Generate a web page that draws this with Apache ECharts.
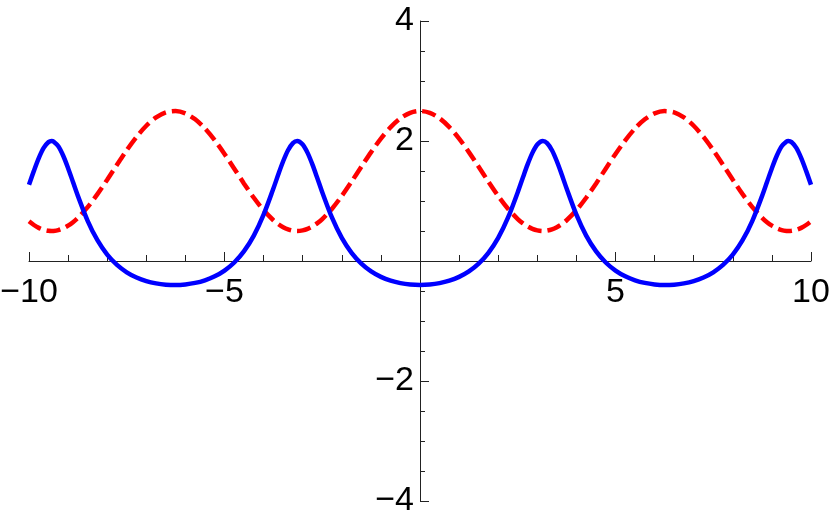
<!DOCTYPE html>
<html>
<head>
<meta charset="utf-8">
<script src="https://cdn.jsdelivr.net/npm/echarts@6/dist/echarts.min.js"></script>
<style>
  html, body { margin: 0; padding: 0; background: #fff; }
  #chart { width: 830px; height: 526px; }
</style>
</head>
<body>
<div id="chart"></div>
<script>
// sample positions along x
const xValues = [
  -10, -9.875, -9.75, -9.625, -9.5, -9.42, -9.375, -9.25, -9.125, -9, -8.875, -8.75, -8.5, -8.25, -8,
  -7.75, -7.5, -7.25, -7, -6.75, -6.5, -6.25, -6, -5.75, -5.5, -5.25, -5, -4.75, -4.5, -4.25, -4,
  -3.75, -3.625, -3.5, -3.375, -3.25, -3.14, -3, -2.875, -2.75, -2.625, -2.5, -2.25, -2, -1.75, -1.5,
  -1.25, -1, -0.75, -0.5, -0.25,
  0,
  0.25, 0.5, 0.75, 1, 1.25, 1.5, 1.75, 2, 2.25, 2.5, 2.625, 2.75, 2.875, 3, 3.14, 3.25, 3.375, 3.5,
  3.625, 3.75, 4, 4.25, 4.5, 4.75, 5, 5.25, 5.5, 5.75, 6, 6.25, 6.5, 6.75, 7, 7.25, 7.5, 7.75, 8,
  8.25, 8.5, 8.75, 8.875, 9, 9.125, 9.25, 9.375, 9.42, 9.5, 9.625, 9.75, 9.875, 10
]

// solid blue curve
const blueValues = [
  1.270, 1.502, 1.715, 1.885, 1.983, 2.0, 1.993, 1.912, 1.754, 1.547, 1.317, 1.086, 0.670, 0.346, 0.107,
  -0.065, -0.188, -0.275, -0.335, -0.373, -0.394, -0.400, -0.390, -0.365, -0.321, -0.255, -0.159, -0.025, 0.164, 0.423, 0.772,
  1.208, 1.441, 1.662, 1.846, 1.965, 2.0, 1.941, 1.802, 1.606, 1.379, 1.146, 0.721, 0.384, 0.135, -0.045,
  -0.174, -0.265, -0.328, -0.369, -0.392,
  -0.400,
  -0.392, -0.369, -0.328, -0.265, -0.174, -0.045, 0.135, 0.384, 0.721, 1.146, 1.379, 1.606, 1.802, 1.941, 2.0, 1.965, 1.846, 1.662,
  1.441, 1.208, 0.772, 0.423, 0.164, -0.025, -0.159, -0.255, -0.321, -0.365, -0.390, -0.400, -0.394, -0.373, -0.335, -0.275, -0.188, -0.065, 0.107,
  0.346, 0.670, 1.086, 1.317, 1.547, 1.754, 1.912, 1.993, 2.0, 1.983, 1.885, 1.715, 1.502, 1.270
]

// dashed red curve
const redValues = [
  0.661, 0.600, 0.552, 0.520, 0.503, 0.5, 0.501, 0.515, 0.545, 0.589, 0.647, 0.719, 0.898, 1.114, 1.355,
  1.604, 1.847, 2.068, 2.254, 2.393, 2.477, 2.499, 2.460, 2.361, 2.209, 2.012, 1.784, 1.538, 1.289, 1.054, 0.846,
  0.679, 0.615, 0.564, 0.527, 0.506, 0.5, 0.510, 0.535, 0.576, 0.631, 0.699, 0.872, 1.084, 1.322, 1.571,
  1.815, 2.040, 2.232, 2.378, 2.469,
  2.5,
  2.469, 2.378, 2.232, 2.040, 1.815, 1.571, 1.322, 1.084, 0.872, 0.699, 0.631, 0.576, 0.535, 0.510, 0.5, 0.506, 0.527, 0.564,
  0.615, 0.679, 0.846, 1.054, 1.289, 1.538, 1.784, 2.012, 2.209, 2.361, 2.460, 2.499, 2.477, 2.393, 2.254, 2.068, 1.847, 1.604, 1.355,
  1.114, 0.898, 0.719, 0.647, 0.589, 0.545, 0.515, 0.501, 0.5, 0.503, 0.520, 0.552, 0.600, 0.661
]

const xTicks = { min: -10, max: 10, step: 5 }
const yTicks = { min: -4, max: 4, step: 2 }

const pairs = (ys) => xValues.map((x, i) => [x, ys[i]])
const fmt = (v) => (v === 0 ? '' : String(v).replace('-', '\u2212'))

const W = 830, H = 526
const gridBox = { left: 29, right: 19, top: 21, bottom: 25 }
const plotW = W - gridBox.left - gridBox.right
const plotH = H - gridBox.top - gridBox.bottom

// axes cross at the origin: shift each axis from the grid edge to zero
const xAxisOffset = -plotH * (0 - yTicks.min) / (yTicks.max - yTicks.min)
const yAxisOffset = -plotW * (0 - xTicks.min) / (xTicks.max - xTicks.min)

const axisColor = '#222'
const labelFont = { fontFamily: 'Liberation Sans', fontSize: 34, color: '#000' }

const chart = echarts.init(document.getElementById('chart'))
chart.setOption({
  animation: false,
  grid: { ...gridBox, containLabel: false, outerBoundsMode: 'none' },
  xAxis: {
    type: 'value',
    position: 'bottom',
    offset: xAxisOffset,
    min: xTicks.min,
    max: xTicks.max,
    interval: xTicks.step,
    axisLine: { onZero: false, lineStyle: { color: axisColor, width: 1 } },
    axisTick: { inside: true, length: 9, lineStyle: { color: axisColor } },
    minorTick: { show: true, splitNumber: 5, length: 6, lineStyle: { color: axisColor } },
    axisLabel: { ...labelFont, margin: 15, formatter: fmt, showMinLabel: true, showMaxLabel: true },
    splitLine: { show: false },
  },
  yAxis: {
    type: 'value',
    position: 'left',
    offset: yAxisOffset,
    min: yTicks.min,
    max: yTicks.max,
    interval: yTicks.step,
    axisLine: { onZero: false, lineStyle: { color: axisColor, width: 1 } },
    axisTick: { inside: true, length: 9, lineStyle: { color: axisColor } },
    minorTick: { show: true, splitNumber: 4, length: 5, lineStyle: { color: axisColor } },
    axisLabel: { ...labelFont, margin: 6, padding: [3, 0, 0, 0], formatter: fmt, showMinLabel: true, showMaxLabel: true },
    splitLine: { show: false },
  },
  series: [
    {
      type: 'line',
      data: pairs(redValues),
      smooth: 0.3,
      showSymbol: false,
      lineStyle: { color: '#ff0000', width: 4.5, type: [14, 6], cap: 'butt' },
      z: 2,
    },
    {
      type: 'line',
      data: pairs(blueValues),
      smooth: 0.3,
      showSymbol: false,
      lineStyle: { color: '#0000ff', width: 4.5 },
      z: 3,
    },
  ],
})
</script>
</body>
</html>
